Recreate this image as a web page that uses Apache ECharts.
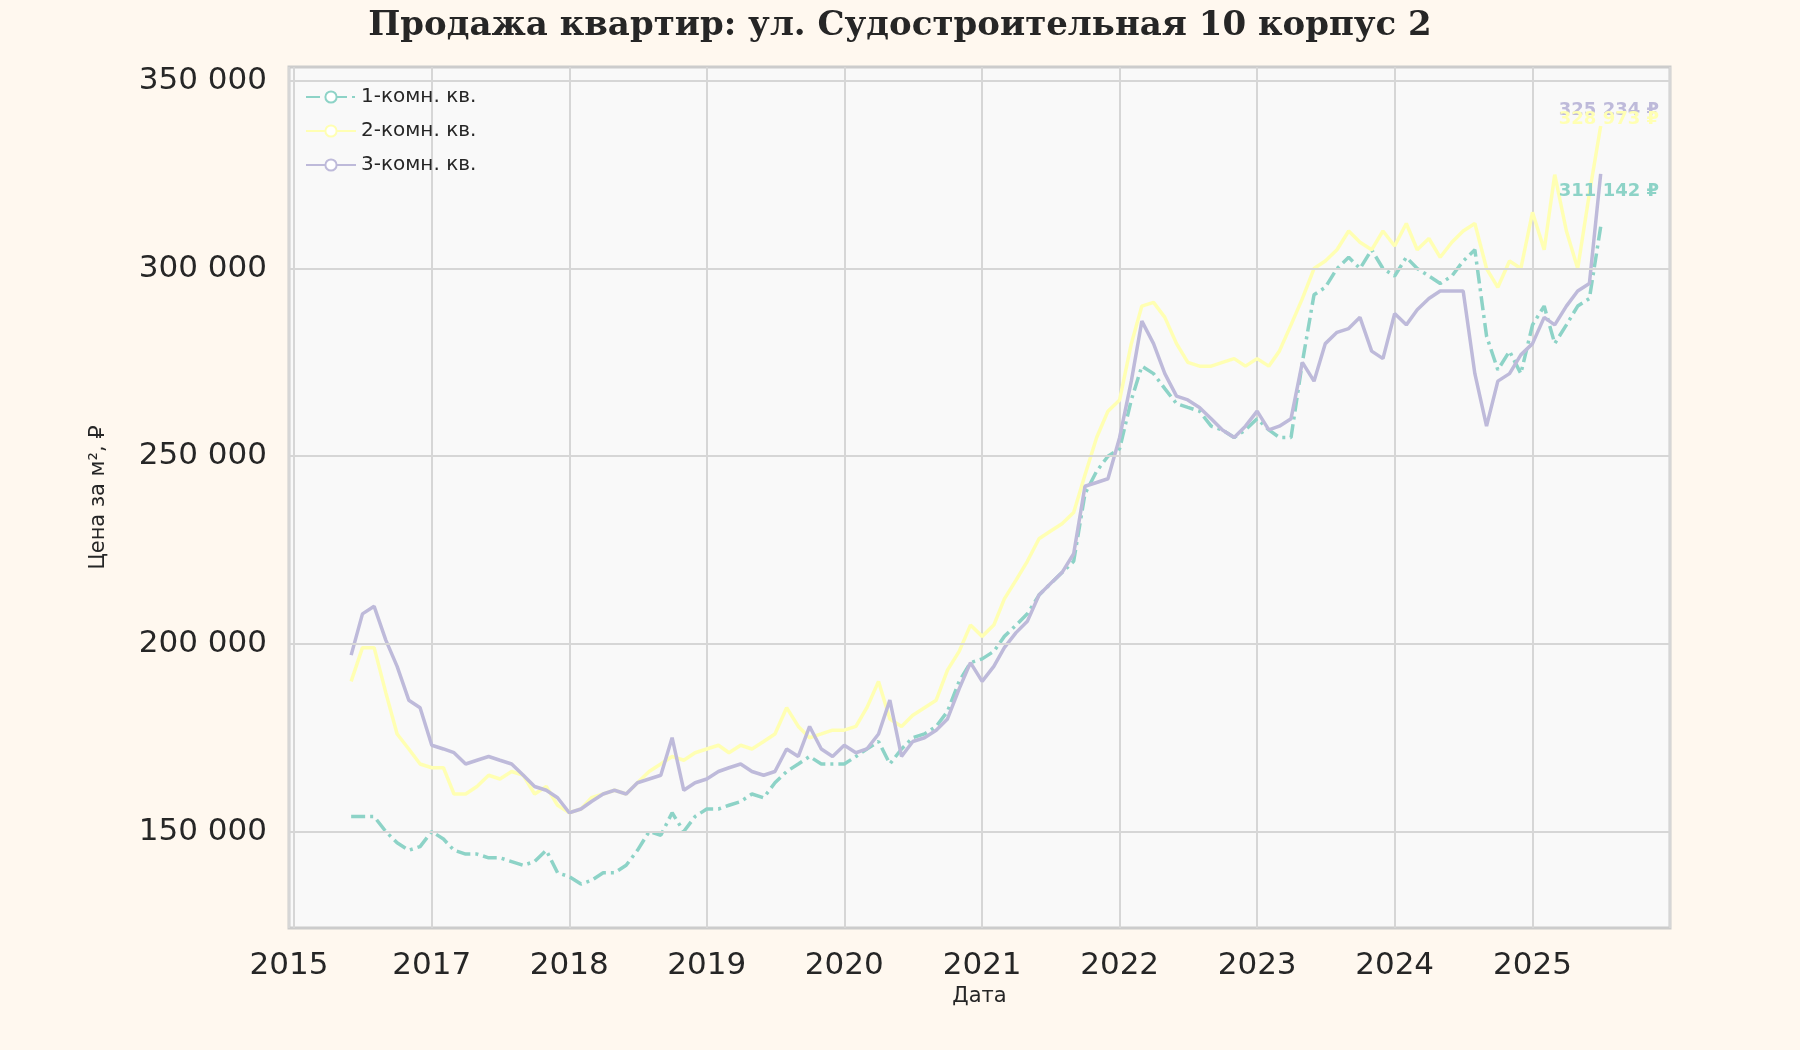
<!DOCTYPE html>
<html><head><meta charset="utf-8">
<script src="https://cdn.jsdelivr.net/npm/echarts@6/dist/echarts.min.js"></script>
<style>html,body{margin:0;background:#fff8ef}#c{width:1800px;height:1050px}</style>
</head><body><div id="c"></div>
<script>
// monthly points, 2016-06 .. 2025-07
var months = [];
for (var y = 2016; y <= 2025; y++) {
    for (var m = 1; m <= 12; m++) {
        if ((y === 2016 && m < 6) || (y === 2025 && m > 7)) continue;
        months.push(y + '-' + (m < 10 ? '0' + m : m) + '-01');
    }
}
var room1 = [154000,154000,154000,150000,147000,145000,146000,
    150000,148000,145000,144000,144000,143000,143000,142000,141000,142000,145000,139000,
    138000,136000,137000,139000,139000,141000,145000,150000,149000,155000,150000,154000,
    156000,156000,157000,158000,160000,159000,163000,166000,168000,170000,168000,168000,
    168000,170000,172000,174000,168000,172000,175000,176000,178000,182000,190000,195000,
    196000,198000,202000,205000,208000,213000,216000,219000,222000,240000,246000,250000,
    252000,265000,274000,272000,268000,264000,263000,262000,258000,257000,255000,257000,
    260000,257000,255000,255000,275000,293000,295000,300000,303000,300000,305000,300000,
    298000,303000,300000,298000,296000,298000,302000,305000,282000,273000,278000,272000,
    285000,290000,280000,285000,290000,292000,311142];
var room2 = [190000,199000,199000,187000,176000,172000,168000,
    167000,167000,160000,160000,162000,165000,164000,166000,165000,160000,162000,157000,
    155000,156000,159000,160000,161000,160000,163000,166000,168000,170000,169000,171000,
    172000,173000,171000,173000,172000,174000,176000,183000,178000,175000,176000,177000,
    177000,178000,183000,190000,180000,178000,181000,183000,185000,193000,198000,205000,
    202000,205000,212000,217000,222000,228000,230000,232000,235000,245000,255000,262000,
    265000,280000,290000,291000,287000,280000,275000,274000,274000,275000,276000,274000,
    276000,274000,278000,285000,292000,300000,302000,305000,310000,307000,305000,310000,
    306000,312000,305000,308000,303000,307000,310000,312000,300000,295000,302000,300000,
    315000,305000,325000,310000,300000,320000,338000];
var room3 = [197000,208000,210000,201000,194000,185000,183000,
    173000,172000,171000,168000,169000,170000,169000,168000,165000,162000,161000,159000,
    155000,156000,158000,160000,161000,160000,163000,164000,165000,175000,161000,163000,
    164000,166000,167000,168000,166000,165000,166000,172000,170000,178000,172000,170000,
    173000,171000,172000,176000,185000,170000,174000,175000,177000,180000,188000,195000,
    190000,194000,199000,203000,206000,213000,216000,219000,224000,242000,243000,244000,
    255000,270000,286000,280000,272000,266000,265000,263000,260000,257000,255000,258000,
    262000,257000,258000,260000,275000,270000,280000,283000,284000,287000,278000,276000,
    288000,285000,289000,292000,294000,294000,294000,272000,258000,270000,272000,277000,
    280000,287000,285000,290000,294000,296000,325234];
var names = ['1-комн. кв.', '2-комн. кв.', '3-комн. кв.'];
var colors = ['#8dd3c7', '#ffffb3', '#bebada'];
var yTicks = [150000, 200000, 250000, 300000, 350000];
var endLabels = [
    { text: '325 234 ₽', y: 111, c: colors[2] },
    { text: '328 973 ₽', y: 120, c: colors[1] },
    { text: '311 142 ₽', y: 192, c: colors[0] }
];

function fmt(v) { return String(v).replace(/\B(?=(\d{3})+(?!\d))/g, ' '); }
function pairs(arr) { return arr.map(function (v, i) { return [months[i], v]; }); }

var chart = echarts.init(document.getElementById('c'));
var series = [room1, room2, room3].map(function (d, i) {
    return {
        name: names[i], type: 'line', data: pairs(d), showSymbol: false,
        lineStyle: { color: colors[i], width: 3.5, type: i === 0 ? [14, 5, 3, 5] : 'solid' },
        itemStyle: { color: colors[i] }, z: 3
    };
});
series.push({
    type: 'line', data: [], silent: true,
    markLine: {
        symbol: 'none', silent: true, label: { show: false },
        lineStyle: { color: '#d6d6d6', type: 'solid', width: 2 },
        data: yTicks.map(function (v) { return { yAxis: v }; })
    }
});

chart.setOption({
    backgroundColor: '#fff8ef',
    title: {
        text: 'Продажа квартир: ул. Судостроительная 10 корпус 2', left: 'center', top: 4,
        textStyle: { fontFamily: 'DejaVu Serif', fontWeight: 'bold', fontSize: 34, color: '#262626' }
    },
    legend: {
        left: 300, top: 82, orient: 'vertical', itemWidth: 50, itemHeight: 14, itemGap: 14,
        data: names, textStyle: { fontFamily: 'DejaVu Sans', fontSize: 20, color: '#262626' }
    },
    grid: { left: 289, right: 130, top: 67, bottom: 122, show: true, backgroundColor: '#f9f9f9', borderColor: '#cccccc', borderWidth: 3 },
    xAxis: {
        type: 'time', min: '2015-12-19', max: '2026-01-01',
        minInterval: 365 * 86400000, maxInterval: 366 * 86400000,
        name: 'Дата', nameLocation: 'middle', nameGap: 56,
        nameTextStyle: { fontFamily: 'DejaVu Sans', fontSize: 21, color: '#262626' },
        axisLine: { show: false }, axisTick: { show: false },
        axisLabel: { formatter: '{yyyy}', fontFamily: 'DejaVu Sans', fontSize: 31, color: '#262626', margin: 22, showMinLabel: true },
        splitLine: { show: true, lineStyle: { color: '#d6d6d6', width: 2 } }
    },
    yAxis: {
        type: 'value', min: 124300, max: 353700,
        name: 'Цена за м², ₽', nameLocation: 'middle', nameGap: 180,
        nameTextStyle: { fontFamily: 'DejaVu Sans', fontSize: 21, color: '#262626' },
        axisLine: { show: false }, axisTick: { show: false, customValues: yTicks },
        axisLabel: { customValues: yTicks, formatter: fmt, fontFamily: 'DejaVu Sans', fontSize: 31, color: '#262626', margin: 22 },
        splitLine: { show: false }
    },
    graphic: endLabels.map(function (l) {
        return { type: 'text', right: 141, top: l.y - 10, z: 10,
            style: { text: l.text, fill: l.c, font: 'bold 18px DejaVu Sans' } };
    }),
    series: series
});
</script></body></html>
